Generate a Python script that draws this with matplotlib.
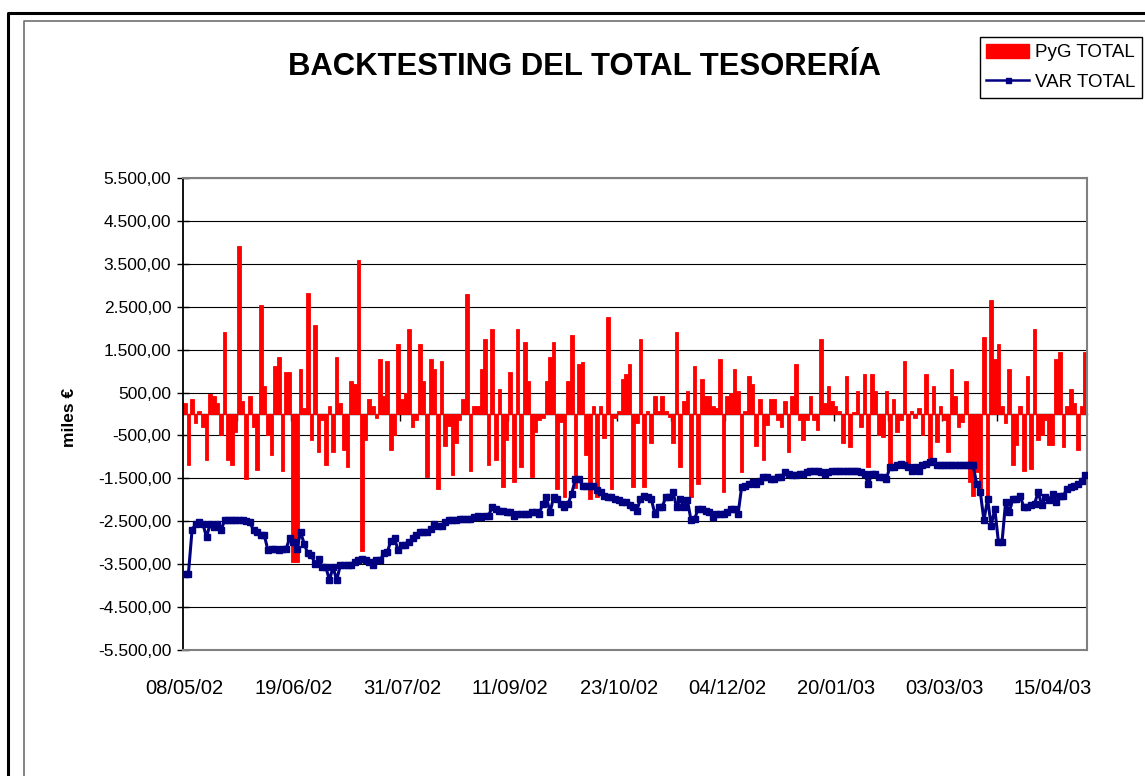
import matplotlib
matplotlib.use('Agg')
import matplotlib.pyplot as plt
from matplotlib.lines import Line2D
from matplotlib.patches import Patch
import numpy as np

# ---------------- data ----------------
pyg_total = [
    250, -1180, 350, -220, 80, -310, -1070, 470, 420, 250,
    -500, 1910, -1070, -1190, -430, 3920, 300, -1520, 420, -310,
    -1300, 2540, 650, -500, -950, 1110, 1340, -1340, 980, 980,
    -3450, -3450, 1050, 130, 2830, -600, 2080, -890, -140, -1180,
    190, -890, 1340, 250, -840, -1240, 780, 710, 3580, -3190,
    -600, 360, 190, -90, 1290, 420, 1230, -840, -500, 1630,
    360, 480, 1980, -310, -140, 1630, 780, -1470, 1290, 1060,
    -1740, 1230, -740, -270, -1410, -670, -140, 360, 2790, -1340,
    190, 190, 1060, 1740, -1190, 1980, -1070, 590, -1710, -600,
    990, -1590, 1980, -1240, 1680, 770, -1470, -430, -140, -100,
    770, 1340, 1680, -1740, -190, -1940, 770, 1850, -1730, 1170,
    1220, -950, -1980, 190, -1940, 190, -550, 2260, -1740, -90,
    80, 820, 940, 1170, -1710, -210, 1740, -1710, 80, -670,
    420, 80, 420, 80, -60, -670, 1910, -1240, 310, 540,
    -1940, 1110, -1640, 820, 420, 420, 190, 130, 1290, -1820,
    420, 480, 1050, 540, -1360, 80, 880, 700, -740, 360,
    -1070, -260, 360, 360, -140, -310, 300, -890, 420, 1170,
    -140, -600, -140, 420, -140, -370, 1740, 250, 650, 300,
    190, 80, -670, 880, -780, 40, 540, -310, 940, -1240,
    940, 540, -500, -540, 540, -1200, 360, -430, -140, 1230,
    -1190, 80, -90, 130, -500, 940, -1030, 650, -660, 190,
    -140, -890, 1050, 420, -310, -190, 770, -1590, -1900, -1360,
    -1740, 1800, -2000, 2660, 1290, 1630, 190, -210, 1050, -1190,
    -720, 190, -1340, 880, -1290, 1970, -600, -500, -140, -720,
    -720, 1290, 1450, -780, 190, 590, 250, -840, 190, 1450,
]

var_total = [
    -3720, -3720, -2710, -2560, -2520, -2560, -2870, -2560, -2640, -2560,
    -2710, -2480, -2480, -2480, -2480, -2480, -2480, -2500, -2520, -2710,
    -2750, -2830, -2830, -3180, -3140, -3140, -3180, -3140, -3140, -2900,
    -2980, -3140, -2750, -3020, -3250, -3290, -3490, -3370, -3570, -3570,
    -3870, -3570, -3870, -3530, -3530, -3530, -3530, -3450, -3410, -3370,
    -3410, -3450, -3530, -3410, -3410, -3250, -3220, -2950, -2900, -3180,
    -3060, -3060, -2980, -2900, -2830, -2750, -2750, -2750, -2670, -2560,
    -2600, -2600, -2520, -2480, -2480, -2480, -2440, -2440, -2440, -2440,
    -2400, -2370, -2400, -2370, -2370, -2170, -2210, -2250, -2250, -2290,
    -2290, -2370, -2330, -2330, -2330, -2330, -2290, -2290, -2330, -2090,
    -1940, -2290, -1940, -1980, -2090, -2170, -2090, -1860, -1510, -1510,
    -1670, -1670, -1670, -1670, -1780, -1820, -1900, -1940, -1940, -1980,
    -2010, -2050, -2050, -2130, -2170, -2250, -1980, -1900, -1940, -1980,
    -2330, -2170, -2170, -1940, -1940, -1820, -2170, -1980, -2170, -2010,
    -2480, -2440, -2210, -2210, -2250, -2290, -2400, -2330, -2330, -2330,
    -2290, -2210, -2210, -2330, -1700, -1670, -1630, -1590, -1630, -1550,
    -1470, -1470, -1510, -1510, -1470, -1470, -1360, -1400, -1430, -1430,
    -1400, -1400, -1360, -1320, -1320, -1320, -1360, -1400, -1360, -1320,
    -1320, -1320, -1320, -1320, -1320, -1320, -1320, -1360, -1400, -1630,
    -1400, -1400, -1470, -1470, -1510, -1240, -1240, -1200, -1160, -1200,
    -1240, -1320, -1240, -1320, -1200, -1160, -1120, -1090, -1200, -1200,
    -1200, -1200, -1200, -1200, -1200, -1200, -1200, -1200, -1200, -1630,
    -1820, -2480, -1980, -2600, -2210, -2980, -2980, -2050, -2290, -1980,
    -1980, -1900, -2170, -2170, -2130, -2090, -1820, -2130, -1940, -2010,
    -1860, -2050, -1900, -1900, -1740, -1710, -1670, -1630, -1550, -1430,
]

date_labels = ['08/05/02', '19/06/02', '31/07/02', '11/09/02', '23/10/02',
               '04/12/02', '20/01/03', '03/03/03', '15/04/03']
label_step = 30
tick_step = 15
y_ticks = list(range(-5500, 5501, 1000))

# ---------------- figure ----------------
plt.rcParams['font.family'] = ['Liberation Sans', 'DejaVu Sans']

W, H = 1145, 776
fig = plt.figure(figsize=(W / 100, H / 100), dpi=100)
fig.patch.set_facecolor('white')

ax = fig.add_axes([183 / W, 1 - 650 / H, 904 / W, 472 / H])
n = len(pyg_total)
x = np.arange(n)

ax.bar(x, pyg_total, width=1.0, color='#FF0000', edgecolor='#FF0000',
       linewidth=0.6, zorder=2)
ax.plot(x, var_total, color='#000080', lw=2.2, marker='s', ms=4.3,
        mfc='#000080', mec='#000080', zorder=3)

ax.set_xlim(-0.5, n - 0.5)
ax.set_ylim(-5500, 5500)


def fmt(v):
    s = f"{abs(v):,.2f}".replace(',', 'X').replace('.', ',').replace('X', '.')
    return ('-' if v < 0 else '') + s


ax.set_yticks(y_ticks)
ax.set_yticklabels([fmt(v) for v in y_ticks], fontsize=12.5)
ax.tick_params(axis='y', direction='inout', length=9, width=1, pad=4)
ax.yaxis.grid(True, color='#000000', lw=0.8)
ax.set_axisbelow(True)

ax.set_xticks(np.arange(0, n, label_step))
ax.set_xticklabels(date_labels, fontsize=14.5)
ax.tick_params(axis='x', length=0, pad=21)

for s in ['top', 'right', 'bottom']:
    ax.spines[s].set_color('#808080')
    ax.spines[s].set_linewidth(1.5)
ax.spines['left'].set_color('black')
ax.spines['left'].set_linewidth(1.3)

# category axis crossing at zero with tick marks between categories
sec = ax.secondary_xaxis(0, transform=ax.transData)
sec.set_xticks(np.arange(tick_step, n, tick_step) - 0.5)
sec.set_xticklabels([])
sec.tick_params(direction='out', length=5, width=1, color='black')
sec.spines['bottom'].set_color('black')
sec.spines['bottom'].set_linewidth(1.0)

# title and axis label
fig.text(584.5 / W, 1 - 75 / H, 'BACKTESTING DEL TOTAL TESORERÍA',
         ha='center', va='baseline', fontsize=22.3, fontweight='bold')
fig.text(70 / W, 1 - 417 / H, 'miles €', rotation=90, ha='center',
         va='center', fontsize=12.5, fontweight='bold')

# legend
handles = [Patch(facecolor='#FF0000', edgecolor='#FF0000'),
           Line2D([0], [0], color='#000080', lw=1.8, marker='s', ms=3.6)]
leg = fig.legend(handles, ['PyG TOTAL', 'VAR TOTAL'], loc='upper right',
                 bbox_to_anchor=(1142 / W, 1 - 37 / H), frameon=True,
                 fancybox=False, edgecolor='black', framealpha=1,
                 fontsize=13.5, handlelength=2.3, handleheight=0.8,
                 borderpad=0.35, labelspacing=0.65, handletextpad=0.3,
                 borderaxespad=0)
leg.get_frame().set_linewidth(1.0)

# outer frames
fig.add_artist(Line2D([8 / W, 8 / W, 1.01], [-0.01, 1 - 13 / H, 1 - 13 / H],
                      transform=fig.transFigure, color='black', lw=2.2))
fig.add_artist(Line2D([23.5 / W, 23.5 / W, 1.01], [-0.01, 1 - 21 / H, 1 - 21 / H],
                      transform=fig.transFigure, color='#707070', lw=1.2))

fig.savefig('out.png', dpi=100)
